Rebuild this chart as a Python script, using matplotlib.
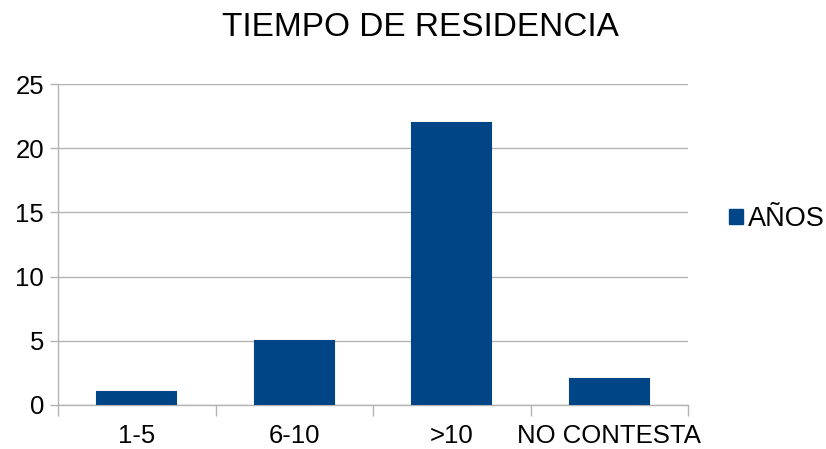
import matplotlib
matplotlib.use("Agg")
import matplotlib.pyplot as plt
from matplotlib.patches import Patch

categories = ["1-5", "6-10", ">10", "NO CONTESTA"]
values = [1, 5, 22, 2]
series_name = "AÑOS"
title = "TIEMPO DE RESIDENCIA"
yticks = [0, 5, 10, 15, 20, 25]

plt.rcParams['font.family'] = ['Liberation Sans', 'DejaVu Sans']

fig = plt.figure(figsize=(8.26, 4.49), dpi=100)
ax = fig.add_axes([58/826, 44/449, 630/826, 321/449])

x = list(range(len(categories)))
ax.bar(x, values, width=0.5, color="#004586", edgecolor="#004586", linewidth=1.5,
       zorder=3, label=series_name)
ax.set_xlim(-0.5, len(categories) - 0.5)
ax.set_ylim(0, 25)
ax.set_yticks(yticks)
ax.set_yticklabels([str(t) for t in yticks], fontsize=18.5)
ax.yaxis.grid(True, color="#b3b3b3", linewidth=1, zorder=0)

ax.set_xticks(x)
ax.set_xticklabels(categories, fontsize=18.5)
ax.tick_params(axis='x', length=0, pad=14)
ax.set_xticks([i - 0.5 for i in range(len(categories) + 1)], minor=True)
ax.tick_params(axis='x', which='minor', length=8, color="#b3b3b3", width=1)
ax.tick_params(axis='y', length=6, color="#b3b3b3", width=1, pad=4)

for s in ['top', 'right']:
    ax.spines[s].set_visible(False)
for s in ['left', 'bottom']:
    ax.spines[s].set_color("#b3b3b3")
    ax.spines[s].set_linewidth(1)

fig.text(0.5095, 1 - 27/449, title, ha='center', va='center', fontsize=24)

handles = [Patch(facecolor="#004586", edgecolor="#004586", label=series_name)]
fig.legend(handles=handles, loc='center left', bbox_to_anchor=(718/826, 1 - 219/449),
           frameon=False, fontsize=19.5, handlelength=0.52, handleheight=0.52,
           handletextpad=0.2, borderpad=0.2, borderaxespad=0.2)

fig.savefig("out.png", dpi=100)
